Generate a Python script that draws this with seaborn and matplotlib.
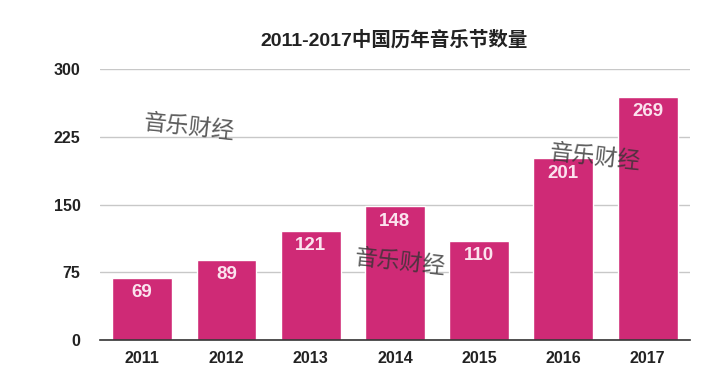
import pandas as pd
import seaborn as sns
import matplotlib.pyplot as plt

years = ['2011', '2012', '2013', '2014', '2015', '2016', '2017']
counts = [69, 89, 121, 148, 110, 201, 269]
yticks = [0, 75, 150, 225, 300]
title = '2011-2017中国历年音乐节数量'
watermark = '音乐财经'

sns.set_style('white')
plt.rcParams['font.family'] = ['Liberation Sans', 'Noto Sans CJK SC', 'DejaVu Sans']

df = pd.DataFrame({'year': years, 'count': counts})

fig = plt.figure(figsize=(7.2, 3.77), dpi=100)
ax = fig.add_axes([0.139, 0.098, 0.819, 0.719])

sns.barplot(data=df, x='year', y='count', color='#CF2A76', saturation=1,
            width=0.71, ax=ax, zorder=2)

ax.set_ylim(0, 300)
ax.set_yticks(yticks)
ax.yaxis.grid(True, color='#c8c8c8', linewidth=1, zorder=0)
ax.set_axisbelow(True)
for s in ['top', 'right', 'left']:
    ax.spines[s].set_visible(False)
ax.spines['bottom'].set_color('#333333')
ax.spines['bottom'].set_linewidth(1.2)
ax.tick_params(axis='y', length=0, pad=14, labelsize=11.5)
ax.tick_params(axis='x', length=0, pad=8, labelsize=11.5)
for lab in ax.get_xticklabels() + ax.get_yticklabels():
    lab.set_fontweight('bold')
    lab.set_color('#222222')
ax.set_xlabel('')
ax.set_ylabel('')

for i, v in enumerate(counts):
    ax.text(i, v - 7, str(v), ha='center', va='top', color='#fbe3ee',
            fontsize=13.5, fontweight='bold')

fig.text(0.548, 0.893, title, ha='center', va='center', fontsize=14,
         fontweight='bold', color='#222222')

for (x, y) in [(0.263, 0.663), (0.826, 0.583), (0.556, 0.305)]:
    fig.text(x, y, watermark, ha='center', va='center', fontsize=16.5,
             color='#333333', alpha=0.8, rotation=-6,
             family=['Noto Sans CJK SC'])

fig.savefig('out.png', dpi=100)
